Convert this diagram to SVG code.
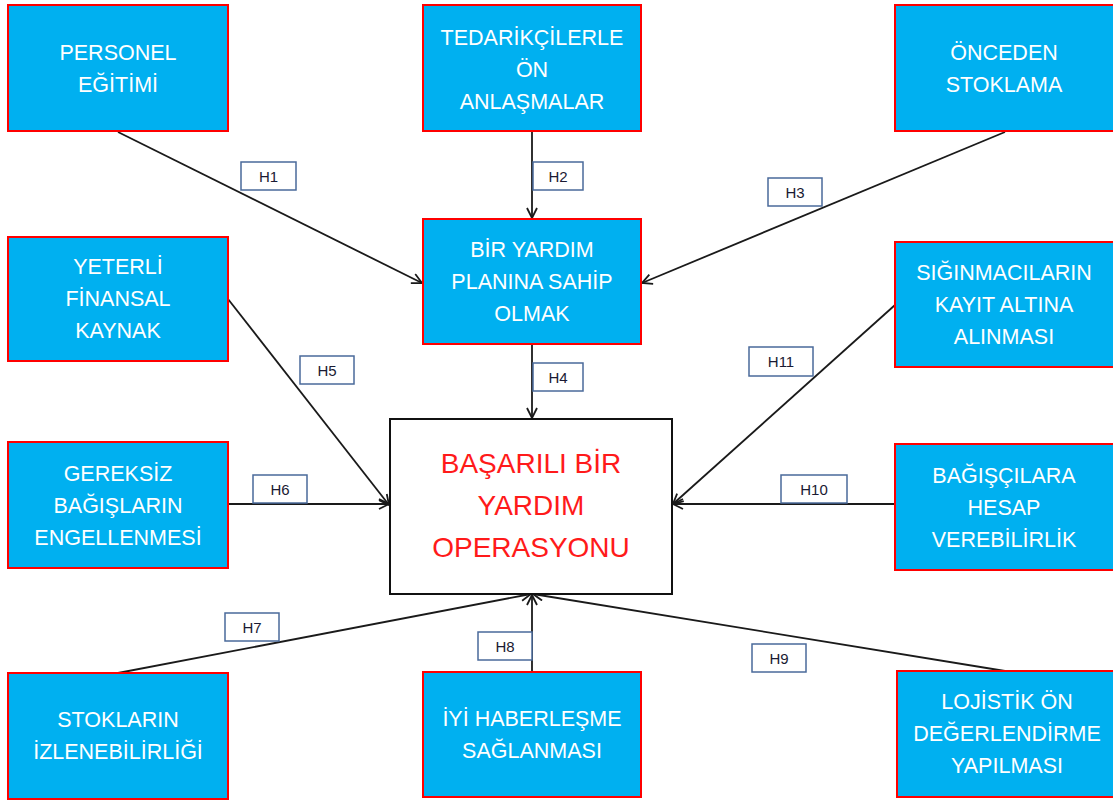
<svg xmlns="http://www.w3.org/2000/svg" width="1113" height="802" viewBox="0 0 1113 802">
<style>
.node{fill:#00b0f0;stroke:#ff0000;stroke-width:2}
.nt{font-family:"Liberation Sans",Arial,sans-serif;font-size:21.5px;fill:#ffffff;text-anchor:middle}
.ct{font-family:"Liberation Sans",Arial,sans-serif;font-size:28px;fill:#ff1a1a;text-anchor:middle}
.lb{fill:#ffffff;stroke:#4a6a9a;stroke-width:1.5}
.lt{font-family:"Liberation Sans",Arial,sans-serif;font-size:15px;fill:#1a1a33;text-anchor:middle}
.c{stroke:#1a1a1a;stroke-width:1.8;fill:none;marker-end:url(#ah)}
</style>
<defs>
<marker id="ah" viewBox="0 0 12 12" refX="11" refY="6" markerWidth="12" markerHeight="12" markerUnits="userSpaceOnUse" orient="auto">
<path d="M1,1 L11,6 L1,11" fill="none" stroke="#1a1a1a" stroke-width="1.8"/>
</marker>
</defs>
<rect width="1113" height="802" fill="#ffffff"/>
<g id="connectors">
<line class="c" x1="118" y1="132" x2="422" y2="283"/>
<line class="c" x1="532" y1="132" x2="532" y2="218"/>
<line class="c" x1="1005" y1="132" x2="642" y2="283"/>
<line class="c" x1="532" y1="345" x2="532" y2="418"/>
<line class="c" x1="228" y1="299" x2="389" y2="505"/>
<line class="c" x1="228" y1="504" x2="389" y2="504"/>
<line class="c" x1="118" y1="673" x2="531" y2="594"/>
<line class="c" x1="532" y1="672" x2="532" y2="595"/>
<line class="c" x1="1005" y1="671" x2="533" y2="594"/>
<line class="c" x1="895" y1="504" x2="673" y2="504"/>
<line class="c" x1="895" y1="305" x2="673" y2="504"/>
</g>
<g id="labels">
<g id="lH1"><rect class="lb" x="241" y="162" width="55" height="28"/><text class="lt" x="268.5" y="181.5">H1</text></g>
<g id="lH2"><rect class="lb" x="533" y="162" width="50" height="28"/><text class="lt" x="558" y="181.5">H2</text></g>
<g id="lH3"><rect class="lb" x="768" y="178" width="54" height="28"/><text class="lt" x="795" y="197.5">H3</text></g>
<g id="lH4"><rect class="lb" x="533" y="363" width="50" height="28"/><text class="lt" x="558" y="382.5">H4</text></g>
<g id="lH5"><rect class="lb" x="300" y="356" width="54" height="28"/><text class="lt" x="327" y="375.5">H5</text></g>
<g id="lH6"><rect class="lb" x="253" y="475" width="54" height="28"/><text class="lt" x="280" y="494.5">H6</text></g>
<g id="lH7"><rect class="lb" x="225" y="613" width="54" height="28"/><text class="lt" x="252" y="632.5">H7</text></g>
<g id="lH8"><rect class="lb" x="478" y="632" width="54" height="28"/><text class="lt" x="505" y="651.5">H8</text></g>
<g id="lH9"><rect class="lb" x="752" y="644" width="54" height="28"/><text class="lt" x="779" y="663.5">H9</text></g>
<g id="lH10"><rect class="lb" x="781" y="475" width="66" height="28"/><text class="lt" x="814" y="494.5">H10</text></g>
<g id="lH11"><rect class="lb" x="749" y="347" width="64" height="29"/><text class="lt" x="781" y="367">H11</text></g>
</g>
<g id="n1"><rect class="node" x="8" y="5" width="220" height="126"/><text class="nt" x="118" y="60">PERSONEL</text><text class="nt" x="118" y="92">EĞİTİMİ</text></g>
<g id="n2"><rect class="node" x="423" y="5" width="218" height="126"/><text class="nt" x="532" y="45">TEDARİKÇİLERLE</text><text class="nt" x="532" y="77">ÖN</text><text class="nt" x="532" y="109">ANLAŞMALAR</text></g>
<g id="n3"><rect class="node" x="895" y="5" width="219" height="126"/><text class="nt" x="1004" y="60">ÖNCEDEN</text><text class="nt" x="1004" y="92">STOKLAMA</text></g>
<g id="n4"><rect class="node" x="423" y="219" width="218" height="125"/><text class="nt" x="532" y="257">BİR YARDIM</text><text class="nt" x="532" y="289">PLANINA SAHİP</text><text class="nt" x="532" y="321">OLMAK</text></g>
<g id="n5"><rect class="node" x="8" y="237" width="220" height="124"/><text class="nt" x="118" y="274">YETERLİ</text><text class="nt" x="118" y="306">FİNANSAL</text><text class="nt" x="118" y="338">KAYNAK</text></g>
<g id="n6"><rect class="node" x="895" y="242" width="219" height="125"/><text class="nt" x="1004" y="280">SIĞINMACILARIN</text><text class="nt" x="1004" y="312">KAYIT ALTINA</text><text class="nt" x="1004" y="344">ALINMASI</text></g>
<g id="n7"><rect class="node" x="8" y="442" width="220" height="126"/><text class="nt" x="118" y="481">GEREKSİZ</text><text class="nt" x="118" y="513">BAĞIŞLARIN</text><text class="nt" x="118" y="545">ENGELLENMESİ</text></g>
<g id="n8"><rect class="node" x="895" y="444" width="219" height="126"/><text class="nt" x="1004" y="483">BAĞIŞÇILARA</text><text class="nt" x="1004" y="515">HESAP</text><text class="nt" x="1004" y="547">VEREBİLİRLİK</text></g>
<g id="n9"><rect class="node" x="8" y="673" width="220" height="126"/><text class="nt" x="118" y="727">STOKLARIN</text><text class="nt" x="118" y="759">İZLENEBİLİRLİĞİ</text></g>
<g id="n10"><rect class="node" x="423" y="672" width="218" height="125"/><text class="nt" x="532" y="726">İYİ HABERLEŞME</text><text class="nt" x="532" y="758">SAĞLANMASI</text></g>
<g id="n11"><rect class="node" x="897" y="671" width="220" height="126"/><text class="nt" x="1007" y="709">LOJİSTİK ÖN</text><text class="nt" x="1007" y="741">DEĞERLENDİRME</text><text class="nt" x="1007" y="773">YAPILMASI</text></g>
<g id="center"><rect x="390" y="419" width="282" height="175" fill="#ffffff" stroke="#111111" stroke-width="2"/><text class="ct" x="531" y="473">BAŞARILI BİR</text><text class="ct" x="531" y="515">YARDIM</text><text class="ct" x="531" y="557">OPERASYONU</text></g>
</svg>
